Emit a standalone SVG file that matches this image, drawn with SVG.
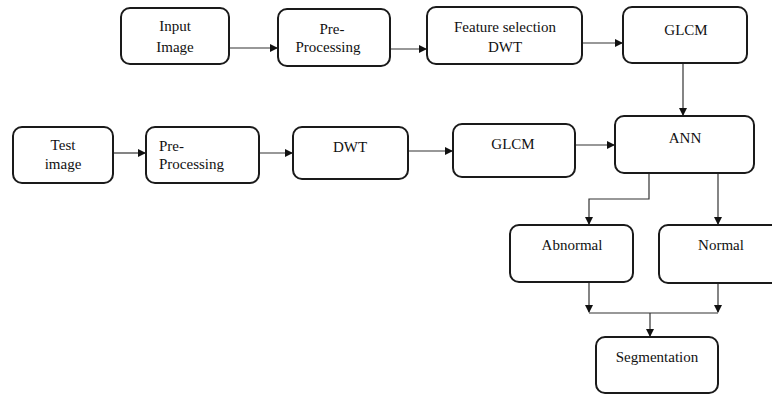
<svg xmlns="http://www.w3.org/2000/svg" width="772" height="394" viewBox="0 0 772 394">
<style>
.box{fill:#fff;stroke:#1a1a1a;stroke-width:2}
text{font-size:15px;fill:#111;text-anchor:middle}
text.tl{text-anchor:start}
.c{fill:none;stroke:#333;stroke-width:1.2}
</style>
<defs>
<marker id="ah" markerWidth="8" markerHeight="8" refX="7" refY="4" orient="auto" markerUnits="userSpaceOnUse">
<path d="M0,0 L8,4 L0,8 Z" fill="#111"/>
</marker>
</defs>
<rect width="772" height="394" fill="#fff"/>
<g id="connectors">
<line class="c" x1="229" y1="48" x2="277" y2="48" marker-end="url(#ah)"/>
<line class="c" x1="390" y1="49" x2="426" y2="49" marker-end="url(#ah)"/>
<line class="c" x1="582" y1="43" x2="622" y2="43" marker-end="url(#ah)"/>
<line class="c" x1="683" y1="63" x2="683" y2="115" marker-end="url(#ah)"/>
<line class="c" x1="113" y1="153" x2="145" y2="153" marker-end="url(#ah)"/>
<line class="c" x1="259" y1="153" x2="292" y2="153" marker-end="url(#ah)"/>
<line class="c" x1="408" y1="151" x2="452" y2="151" marker-end="url(#ah)"/>
<line class="c" x1="575" y1="145" x2="614" y2="145" marker-end="url(#ah)"/>
<polyline class="c" points="649,173 649,199 589,199 589,224" marker-end="url(#ah)"/>
<line class="c" x1="718" y1="173" x2="718" y2="224" marker-end="url(#ah)"/>
<line class="c" x1="589" y1="282" x2="589" y2="312" marker-end="url(#ah)"/>
<line class="c" x1="718" y1="283" x2="718" y2="312" marker-end="url(#ah)"/>
<line class="c" x1="589" y1="313" x2="718" y2="313"/>
<line class="c" x1="650" y1="313" x2="650" y2="336" marker-end="url(#ah)"/>
</g>
<g font-family="Liberation Serif, DejaVu Serif, serif">
<g id="input-image"><rect class="box" x="121" y="8" width="108" height="56" rx="9"/><text x="175" y="31">Input</text><text x="175" y="52">Image</text></g>
<g id="pre-processing-1"><rect class="box" x="278" y="9" width="112" height="57" rx="9"/><text x="332" y="34">Pre-</text><text x="328" y="52">Processing</text></g>
<g id="feature-selection"><rect class="box" x="427" y="7" width="155" height="57" rx="9"/><text x="505" y="32">Feature selection</text><text x="505" y="52">DWT</text></g>
<g id="glcm-1"><rect class="box" x="623" y="7" width="124" height="56" rx="9"/><text x="686" y="35">GLCM</text></g>
<g id="test-image"><rect class="box" x="13" y="127" width="100" height="56" rx="9"/><text x="63" y="150">Test</text><text x="63" y="169">image</text></g>
<g id="pre-processing-2"><rect class="box" x="146" y="127" width="113" height="56" rx="9"/><text class="tl" x="159" y="151">Pre-</text><text class="tl" x="159" y="169">Processing</text></g>
<g id="dwt"><rect class="box" x="293" y="127" width="115" height="52" rx="9"/><text x="350" y="152">DWT</text></g>
<g id="glcm-2"><rect class="box" x="453" y="124" width="122" height="53" rx="9"/><text x="513" y="149">GLCM</text></g>
<g id="ann"><rect class="box" x="615" y="116" width="139" height="57" rx="9"/><text x="685" y="143">ANN</text></g>
<g id="abnormal"><rect class="box" x="510" y="225" width="123" height="57" rx="9"/><text x="572" y="250">Abnormal</text></g>
<g id="normal"><rect class="box" x="659" y="225" width="122" height="58" rx="9"/><text x="721" y="250">Normal</text></g>
<g id="segmentation"><rect class="box" x="596" y="337" width="122" height="56" rx="9"/><text x="657" y="362">Segmentation</text></g>
</g>
</svg>
